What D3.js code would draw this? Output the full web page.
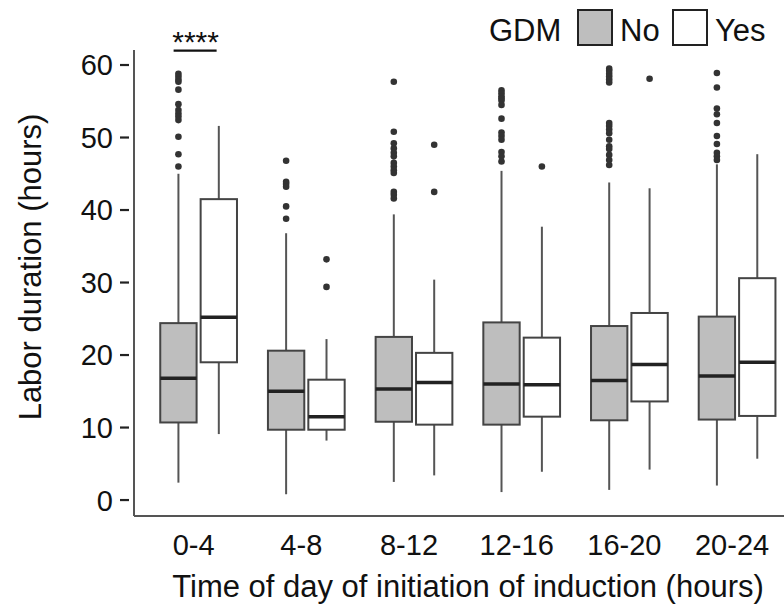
<!DOCTYPE html>
<html>
<head>
<meta charset="utf-8">
<script src="https://cdn.jsdelivr.net/npm/d3@7"></script>
<style>
  body { margin: 0; background: #fff; }
  text { font-family: "Liberation Sans", Arial, sans-serif; fill: #111; }
</style>
</head>
<body>
<svg id="chart"></svg>
<script>
// categories and groups
const categories = ["0-4", "4-8", "8-12", "12-16", "16-20", "20-24"];
const groups = ["No", "Yes"];
const yTicks = [0, 10, 20, 30, 40, 50, 60];

// box stats per category: [whisker low, q1, median, q3, whisker high]
const noStats = [
    [2.4, 10.7, 16.8, 24.4, 45.0],
    [0.8, 9.7, 15.0, 20.6, 36.8],
    [2.5, 10.8, 15.3, 22.5, 39.4],
    [1.1, 10.4, 16.0, 24.5, 45.4],
    [1.4, 11.0, 16.5, 24.0, 43.8],
    [2.0, 11.1, 17.1, 25.3, 46.3]
];
const yesStats = [
    [9.1, 19.0, 25.2, 41.5, 51.6],
    [8.2, 9.7, 11.5, 16.6, 22.2],
    [3.4, 10.4, 16.2, 20.3, 30.4],
    [3.9, 11.5, 15.9, 22.4, 37.7],
    [4.2, 13.6, 18.7, 25.8, 43.0],
    [5.7, 11.6, 19.0, 30.6, 47.7]
];

// outliers
const noOutliers = [
    [58.8, 58.4, 58.0, 57.7, 56.6, 54.6, 53.8, 53.3, 52.9, 52.4, 50.1, 47.7, 46.0],
    [46.8, 43.9, 43.6, 43.2, 40.5, 38.8],
    [57.7, 50.8, 49.2, 48.5, 47.9, 47.4, 46.5, 46.0, 45.5, 45.1, 42.5, 42.1, 41.6],
    [56.5, 56.1, 55.7, 55.4, 55.1, 54.5, 52.6, 50.7, 50.2, 49.7, 48.0, 47.4, 46.7],
    [59.5, 59.2, 58.8, 58.4, 58.0, 57.6, 52.0, 51.6, 51.1, 50.6, 49.7, 48.8, 48.4, 47.6, 46.9, 46.2],
    [58.9, 56.9, 54.0, 53.2, 52.0, 50.2, 49.1, 47.9, 47.4, 46.9]
];
const yesOutliers = [[], [33.2, 29.4], [49.0, 42.5], [46.0], [58.1], []];

const width = 784, height = 607;
const plotLeft = 134, plotBottom = 516, plotTop = 50;

const svg = d3.select("#chart")
    .attr("width", width)
    .attr("height", height);

// x scale: ggplot-like discrete expansion (0.6 of a step each side)
const x = d3.scaleBand()
    .domain(categories)
    .range([plotLeft, 801.7])
    .paddingInner(0)
    .paddingOuter(0.1);

const dodge = d3.scaleBand()
    .domain(groups)
    .range([-0.375 * x.bandwidth(), 0.375 * x.bandwidth()]);

const y = d3.scaleLinear()
    .domain([-2.2, 62.07])
    .range([plotBottom, plotTop]);

const fills = { No: "#bebebe", Yes: "#ffffff" };

// build rows for drawing
const rows = [];
categories.forEach((c, i) => {
    rows.push({ cat: c, grp: "No", s: noStats[i], out: noOutliers[i] });
    rows.push({ cat: c, grp: "Yes", s: yesStats[i], out: yesOutliers[i] });
});

const boxW = dodge.bandwidth() * 0.9;
const cx = d => x(d.cat) + x.bandwidth() / 2 + dodge(d.grp) + dodge.bandwidth() / 2;

const g = svg.append("g");

const box = g.selectAll(".box")
    .data(rows)
    .enter().append("g")
    .attr("class", "box");

// whiskers
box.append("line")
    .attr("x1", cx).attr("x2", cx)
    .attr("y1", d => y(d.s[3])).attr("y2", d => y(d.s[4]))
    .attr("stroke", "#555").attr("stroke-width", 2);
box.append("line")
    .attr("x1", cx).attr("x2", cx)
    .attr("y1", d => y(d.s[1])).attr("y2", d => y(d.s[0]))
    .attr("stroke", "#555").attr("stroke-width", 2);

// boxes
box.append("rect")
    .attr("x", d => cx(d) - boxW / 2)
    .attr("width", boxW)
    .attr("y", d => y(d.s[3]))
    .attr("height", d => y(d.s[1]) - y(d.s[3]))
    .attr("fill", d => fills[d.grp])
    .attr("stroke", "#444")
    .attr("stroke-width", 2);

// medians
box.append("line")
    .attr("x1", d => cx(d) - boxW / 2).attr("x2", d => cx(d) + boxW / 2)
    .attr("y1", d => y(d.s[2])).attr("y2", d => y(d.s[2]))
    .attr("stroke", "#222").attr("stroke-width", 3.5);

// outliers
box.selectAll("circle")
    .data(d => d.out.map(v => ({ v: v, x: cx(d) })))
    .enter().append("circle")
    .attr("cx", d => d.x)
    .attr("cy", d => y(d.v))
    .attr("r", 3.3)
    .attr("fill", "#333");

// axes lines
svg.append("line")
    .attr("x1", plotLeft).attr("x2", plotLeft)
    .attr("y1", plotTop).attr("y2", plotBottom)
    .attr("stroke", "#555").attr("stroke-width", 2);
svg.append("line")
    .attr("x1", plotLeft).attr("x2", width)
    .attr("y1", plotBottom).attr("y2", plotBottom)
    .attr("stroke", "#555").attr("stroke-width", 2);

// y ticks (drawn as dashes after the labels)
const yt = svg.append("g").selectAll("g")
    .data(yTicks).enter().append("g")
    .attr("transform", d => `translate(0,${y(d)})`);
yt.append("line")
    .attr("x1", 120).attr("x2", 129)
    .attr("stroke", "#222").attr("stroke-width", 2.2);
yt.append("text")
    .attr("x", 113)
    .attr("dy", "0.36em")
    .attr("text-anchor", "end")
    .style("font-size", "29px")
    .text(d => d);

// x tick labels
svg.append("g").selectAll("text")
    .data(categories).enter().append("text")
    .attr("x", d => x(d) + x.bandwidth() / 2 - 5)
    .attr("y", 555)
    .attr("text-anchor", "middle")
    .style("font-size", "29px")
    .text(d => d);

// axis titles
svg.append("text")
    .attr("x", 468)
    .attr("y", 597)
    .attr("text-anchor", "middle")
    .style("font-size", "31px")
    .text("Time of day of initiation of induction (hours)");

svg.append("text")
    .attr("transform", "translate(41,267) rotate(-90)")
    .attr("text-anchor", "middle")
    .style("font-size", "31px")
    .text("Labor duration (hours)");

// significance bar
const sigX = x("0-4") + x.bandwidth() / 2;
svg.append("line")
    .attr("x1", sigX - 25).attr("x2", sigX + 18)
    .attr("y1", 50.7).attr("y2", 50.7)
    .attr("stroke", "#111").attr("stroke-width", 2.2);
svg.append("text")
    .attr("x", sigX - 3)
    .attr("y", 52)
    .attr("text-anchor", "middle")
    .style("font-size", "30px")
    .text("****");

// legend
const legend = svg.append("g");
legend.append("text")
    .attr("x", 489).attr("y", 41)
    .style("font-size", "31px")
    .text("GDM");
const legendItems = [
    { grp: "No", bx: 578, tx: 620 },
    { grp: "Yes", bx: 673, tx: 715 }
];
legend.selectAll("rect")
    .data(legendItems).enter().append("rect")
    .attr("x", d => d.bx).attr("y", 10)
    .attr("width", 34).attr("height", 35)
    .attr("fill", d => fills[d.grp])
    .attr("stroke", "#222").attr("stroke-width", 2);
legend.selectAll(".lt")
    .data(legendItems).enter().append("text")
    .attr("class", "lt")
    .attr("x", d => d.tx).attr("y", 41)
    .style("font-size", "31px")
    .text(d => d.grp);
</script>
</body>
</html>
